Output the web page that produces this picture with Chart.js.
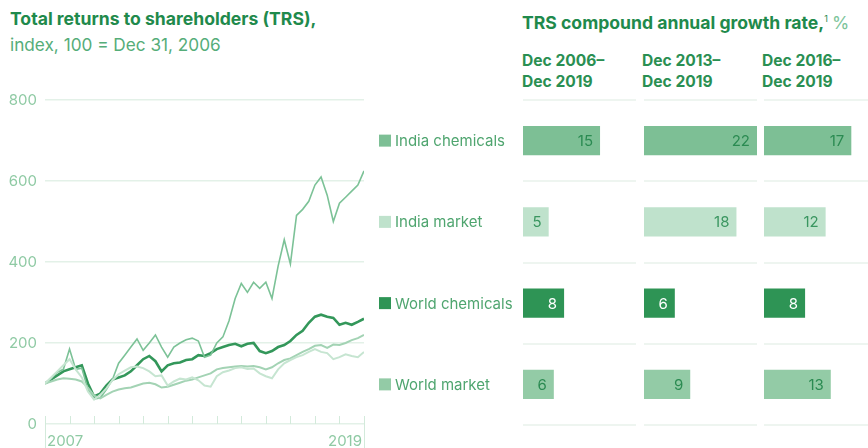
<!DOCTYPE html>
<html>
<head>
<meta charset="utf-8">
<script src="https://cdn.jsdelivr.net/npm/chart.js@4.4.1/dist/chart.umd.min.js"></script>
<style>
  html, body { margin: 0; padding: 0; background: #fff; overflow: hidden; }
  #page { position: relative; width: 868px; height: 448px; overflow: hidden; font-family: Inter, Roboto, sans-serif; }
  .txt { position: absolute; white-space: nowrap; line-height: 1; }
  canvas { position: absolute; }
  .title { font-weight: 700; font-size: 17.6px; color: #1f8a4c; }
  .sub { font-size: 17.2px; color: #55ad79; }
  .head { font-weight: 700; font-size: 15.6px; color: #2a8f52; line-height: 21px; }
</style>
</head>
<body>
<div id="page">
  <div class="txt title" style="left:10px; top:10px;">Total returns to shareholders (TRS),</div>
  <div class="txt sub" style="left:10px; top:36px;">index, 100 = Dec 31, 2006</div>
  <div class="txt title" style="left:522px; top:14px;">TRS compound annual growth rate,<sup style="font-size:9px;font-weight:400;">1</sup> <span style="color:#7cc49a;font-weight:400;">%</span></div>
  <div class="txt head" style="left:522px; top:50px;">Dec 2006–<br>Dec 2019</div>
  <div class="txt head" style="left:642px; top:50px;">Dec 2013–<br>Dec 2019</div>
  <div class="txt head" style="left:762px; top:50px;">Dec 2016–<br>Dec 2019</div>

  <canvas id="lineChart" width="372" height="368" style="left:0; top:80px;"></canvas>
  <canvas id="bar1" width="268" height="358" style="left:372px; top:90px;"></canvas>
  <canvas id="bar2" width="124" height="358" style="left:640px; top:90px;"></canvas>
  <canvas id="bar3" width="124" height="358" style="left:760px; top:90px;"></canvas>
</div>

<script>
// Quarterly index values, Dec 2006 = 100
const indiaChemicals = [100, 112, 128, 135, 185, 135, 138, 85, 62, 64, 85, 110, 150, 170, 190, 210, 182, 200, 220, 190, 165, 190, 200, 208, 212, 205, 165, 170, 200, 215, 255, 310, 347, 325, 350, 335, 350, 310, 390, 455, 395, 515, 530, 550, 590, 610, 565, 500, 545, 560, 575, 590, 625];
const indiaMarket = [100, 115, 130, 145, 160, 135, 115, 80, 60, 72, 88, 108, 123, 132, 140, 142, 138, 130, 118, 120, 95, 105, 112, 110, 115, 108, 95, 92, 118, 128, 132, 138, 140, 136, 137, 125, 118, 113, 135, 150, 158, 165, 170, 178, 185, 178, 175, 160, 165, 172, 168, 165, 178];
const worldChemicals = [100, 110, 120, 130, 135, 140, 145, 100, 68, 75, 95, 110, 115, 120, 130, 145, 160, 168, 155, 130, 145, 150, 152, 158, 160, 170, 168, 175, 185, 190, 195, 198, 192, 198, 200, 180, 175, 180, 190, 195, 205, 220, 230, 250, 265, 270, 265, 262, 245, 250, 245, 252, 260];
const worldMarket = [100, 105, 110, 113, 112, 110, 105, 90, 70, 63, 72, 80, 85, 88, 90, 95, 100, 102, 98, 90, 92, 97, 102, 107, 110, 115, 120, 125, 135, 138, 140, 142, 143, 142, 143, 140, 135, 140, 150, 158, 162, 170, 178, 185, 193, 195, 188, 196, 195, 200, 207, 212, 220];
const yearLabels = ['2007', '2019'];
const yTicks = [0, 200, 400, 600, 800];

// CAGR bars, %
const seriesNames = ['India chemicals', 'India market', 'World chemicals', 'World market'];
const cagr2006 = [15, 5, 8, 6];
const cagr2013 = [22, 18, 6, 9];
const cagr2016 = [17, 12, 8, 13];

const COLORS = {
  bars: ['#7dbf95', '#bfe2cc', '#2e9455', '#93cba6'],
  values: ['#2b8b52', '#3a9660', '#ffffff', '#2b8b52'],
  lines: ['#7cc297', '#c6e5d1', '#33975a', '#a3d3b4'],
  axis: '#8fcaa4',
  grid: '#e3f1e8',
  legend: '#4fa56f',
};

const FONT = 'Inter, Roboto, sans-serif';

function toPoints(values) {
  return values.map((v, i) => ({ x: i / 4, y: v }));
}

// draws year ticks and the two year labels under the line chart
const yearAxisPlugin = {
  id: 'yearAxis',
  afterDraw(chart) {
    const { ctx, scales } = chart;
    const x = scales.x, y = scales.y;
    const y0 = y.getPixelForValue(0);
    ctx.save();
    ctx.strokeStyle = '#d3eadb';
    ctx.lineWidth = 1;
    for (let v = 0; v <= 13; v++) {
      const px = Math.round(x.getPixelForValue(v)) + 0.5;
      ctx.beginPath();
      const isEnd = v === 0 || v === 13;
      ctx.moveTo(px, y0 - 8);
      ctx.lineTo(px, isEnd ? y0 + 24 : y0);
      ctx.stroke();
    }
    ctx.fillStyle = COLORS.axis;
    ctx.font = '15px ' + FONT;
    ctx.textBaseline = 'middle';
    ctx.textAlign = 'left';
    ctx.fillText(yearLabels[0], x.getPixelForValue(0) + 2, y0 + 17);
    ctx.textAlign = 'right';
    ctx.fillText(yearLabels[1], x.getPixelForValue(13) - 2, y0 + 17);
    ctx.restore();
  },
};

new Chart(document.getElementById('lineChart'), {
  type: 'line',
  data: {
    datasets: [
      { label: 'India market', data: toPoints(indiaMarket), borderColor: COLORS.lines[1], borderWidth: 2 },
      { label: 'World market', data: toPoints(worldMarket), borderColor: COLORS.lines[3], borderWidth: 2 },
      { label: 'India chemicals', data: toPoints(indiaChemicals), borderColor: COLORS.lines[0], borderWidth: 1.6 },
      { label: 'World chemicals', data: toPoints(worldChemicals), borderColor: COLORS.lines[2], borderWidth: 2.6 },
    ],
  },
  options: {
    responsive: false,
    animation: false,
    events: [],
    elements: { point: { radius: 0 }, line: { tension: 0 } },
    layout: { padding: { left: 0, right: 8, top: 20, bottom: 24 } },
    plugins: { legend: { display: false }, tooltip: { enabled: false } },
    scales: {
      x: { type: 'linear', min: 0, max: 13, display: false },
      y: {
        min: 0,
        max: 800,
        afterFit: (s) => { s.width = 45; },
        afterBuildTicks: (s) => { s.ticks = yTicks.map((v) => ({ value: v })); },
        border: { display: false },
        grid: { color: COLORS.grid, lineWidth: 1.5, drawTicks: false },
        ticks: { color: COLORS.axis, font: { family: FONT, size: 15 }, padding: 8 },
      },
    },
  },
  plugins: [yearAxisPlugin],
});

// value labels inside the bar ends
const valueLabelPlugin = {
  id: 'valueLabels',
  afterDatasetsDraw(chart) {
    const { ctx } = chart;
    const meta = chart.getDatasetMeta(0);
    const values = chart.data.datasets[0].data;
    ctx.save();
    ctx.font = '15px ' + FONT;
    ctx.textAlign = 'right';
    ctx.textBaseline = 'middle';
    meta.data.forEach((bar, i) => {
      ctx.fillStyle = COLORS.values[i];
      ctx.fillText(String(values[i]), bar.x - 7, bar.y + 1);
    });
    ctx.restore();
  },
};

// legend squares and names to the left of the first column
const rowLegendPlugin = {
  id: 'rowLegend',
  afterDraw(chart) {
    const { ctx, scales } = chart;
    ctx.save();
    ctx.font = '15px ' + FONT;
    ctx.textAlign = 'left';
    ctx.textBaseline = 'middle';
    seriesNames.forEach((name, i) => {
      const py = scales.y.getPixelForValue(i);
      ctx.fillStyle = COLORS.bars[i];
      ctx.fillRect(7, py - 6, 12, 12);
      ctx.fillStyle = COLORS.legend;
      ctx.fillText(name, 23, py + 1);
    });
    ctx.restore();
  },
};

function createBarChart(canvasId, values, padLeft, padRight, extraPlugins) {
  return new Chart(document.getElementById(canvasId), {
    type: 'bar',
    data: {
      labels: seriesNames,
      datasets: [
        {
          data: values,
          backgroundColor: COLORS.bars,
          barPercentage: 1,
          categoryPercentage: 0.36,
        },
      ],
    },
    options: {
      indexAxis: 'y',
      responsive: false,
      animation: false,
      events: [],
      layout: { padding: { left: padLeft, right: padRight, top: 10, bottom: 23 } },
      plugins: { legend: { display: false }, tooltip: { enabled: false } },
      scales: {
        x: { min: 0, max: 22, display: false },
        y: {
          afterFit: (s) => { s.width = 0; },
          border: { display: false },
          grid: { color: '#eef5f0', lineWidth: 2, drawTicks: false, offset: true },
          ticks: { display: false },
        },
      },
    },
    plugins: [valueLabelPlugin].concat(extraPlugins || []),
  });
}

createBarChart('bar1', cagr2006, 151, 4, [rowLegendPlugin]);
createBarChart('bar2', cagr2013, 4, 7);
createBarChart('bar3', cagr2016, 4, 7);
</script>
</body>
</html>
